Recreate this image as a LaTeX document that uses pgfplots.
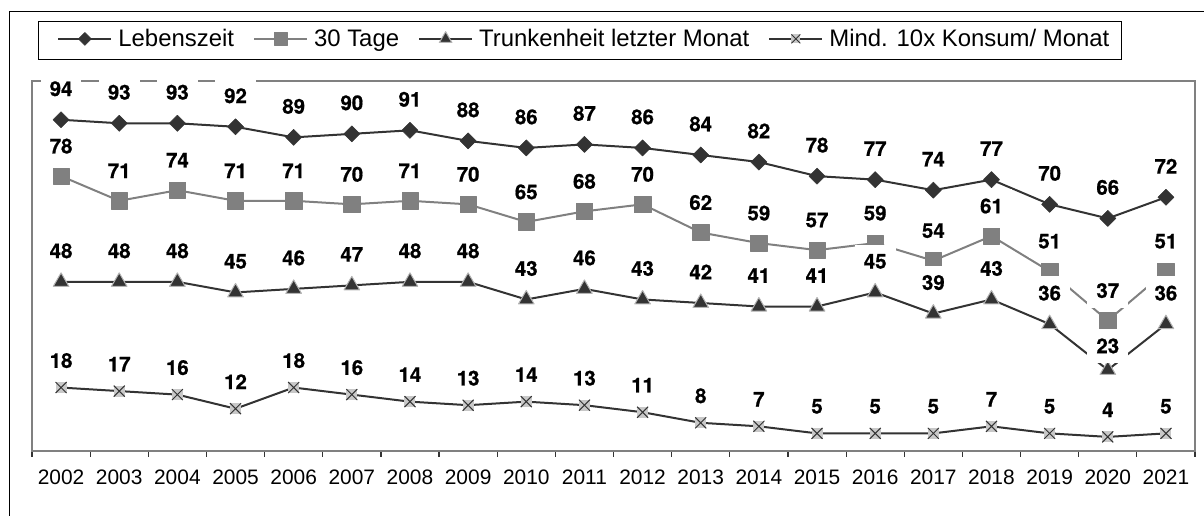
\documentclass[border=0pt]{standalone}
\usepackage{fontspec}
\setmainfont{Liberation Sans}
\newfontfamily\lblfont{texgyreheros-bold}[Extension=.otf, FakeBold=0.8]
\usepackage{pgfplots}
\pgfplotsset{compat=1.18}
\definecolor{dk}{HTML}{333333}
\definecolor{md}{HTML}{808080}
\definecolor{lt}{HTML}{B4B4B4}
\definecolor{sq}{HTML}{C8C8C8}
\pgfdeclareplotmark{xsq}{%
  \pgfpathrectangle{\pgfpoint{-\pgfplotmarksize}{-\pgfplotmarksize}}{\pgfpoint{2\pgfplotmarksize}{2\pgfplotmarksize}}%
  \pgfsetfillcolor{sq}\pgfusepath{fill}%
  \pgfpathmoveto{\pgfpoint{-\pgfplotmarksize}{-\pgfplotmarksize}}\pgfpathlineto{\pgfpoint{\pgfplotmarksize}{\pgfplotmarksize}}%
  \pgfpathmoveto{\pgfpoint{-\pgfplotmarksize}{\pgfplotmarksize}}\pgfpathlineto{\pgfpoint{\pgfplotmarksize}{-\pgfplotmarksize}}%
  \pgfsetstrokecolor{dk}\pgfsetlinewidth{1bp}\pgfusepath{stroke}}
\pgfplotstableread{
x leb tage trunk dtr kons
0 94 78 48 31 18
1 93 71 48 31 17
2 93 74 48 31 16
3 92 71 45 31 12
4 89 71 46 31 18
5 90 70 47 31 16
6 91 71 48 31 14
7 88 70 48 31 13
8 86 65 43 31 14
9 87 68 46 31 13
10 86 70 43 31 11
11 84 62 42 31 8
12 82 59 41 31 7
13 78 57 41 31 5
14 77 59 45 31 5
15 74 54 39 31 5
16 77 61 43 31 7
17 70 51 36 31 5
18 66 37 23 24 4
19 72 51 36 31 5
}\datatab
\newcommand\lbl{{\lblfont\fontsize{20.5}{20.5}\selectfont\pgfmathprintnumber{\pgfplotspointmeta}}}
\begin{document}
\begin{tikzpicture}[x=1bp,y=1bp]
\useasboundingbox (0,0) rectangle (1204,516);
\draw[black, line width=1bp] (9,-5) -- (9,504.5) -- (1210,504.5);
\begin{axis}[
  at={(32bp,65bp)}, anchor=south west,
  width=1163bp, height=370bp, scale only axis,
  xmin=-0.5, xmax=19.5, ymin=0, ymax=105,
  axis line style={md, line width=2bp},
  xtick={0,...,19},
  xticklabels={2002,2003,2004,2005,2006,2007,2008,2009,2010,2011,2012,2013,2014,2015,2016,2017,2018,2019,2020,2021},
  major tick length=0pt,
  minor xtick={-0.5,0.5,...,19.5},
  minor tick length=6bp,
  minor tick style={dk, line width=1.2bp},
  tick align=outside,
  xtick pos=bottom,
  ytick=\empty,
  /pgf/number format/assume math mode=true,
  xticklabel style={font=\fontsize{21}{21}\selectfont, anchor=center, yshift=-26bp},
  every node near coord/.append style={font={\lblfont\fontsize{20.5}{20.5}\selectfont}, fill=white, inner xsep=9bp, inner ysep=9.5bp, anchor=center, text=black},
  legend style={at={(axis description cs:0.00516,1.16216)}, anchor=north west, draw=black, line width=0.8bp,
    font=\fontsize{24}{24}\selectfont, legend columns=4, inner xsep=12bp, inner ysep=7bp,
    nodes={inner sep=0pt, anchor=base west},
    /tikz/every odd column/.append style={column sep=6bp},
    /tikz/every even column/.append style={column sep=12bp}},
  legend cell align=left,
  legend image code/.code={\path (0bp,-5bp) (0bp,17bp); \draw[mark repeat=2,mark phase=2,every mark/.append style={scale=0.8},#1] plot coordinates {(7bp,7.5bp) (33.5bp,7.5bp) (60bp,7.5bp)};},
]
\addplot[dk, line width=2bp, line join=round, mark=square*, mark size=5.7bp,
  mark options={rotate=45, fill=dk, draw=dk, line width=0.5bp},
  nodes near coords={\lbl}, every node near coord/.append style={yshift=31bp}] table[x=x,y=leb] {\datatab};
\addlegendentry{Lebenszeit}
\addplot[md, line width=2bp, line join=round, mark=square*, mark size=8.2bp,
  mark options={fill=md, draw=md, line width=0.5bp},
  nodes near coords={\lbl}, every node near coord/.append style={yshift=30bp}] table[x=x,y=tage] {\datatab};
\addlegendentry{30 Tage}
\addplot[dk, line width=2bp, line join=round, mark=triangle*, mark size=9bp,
  mark options={fill=dk, draw=lt, line width=1bp},
  visualization depends on={\thisrow{dtr} \as \dtr},
  nodes near coords={\lbl}, every node near coord/.append style={yshift=\dtr bp}] table[x=x,y=trunk] {\datatab};
\addlegendentry{Trunkenheit letzter Monat}
\addplot[dk, line width=2bp, line join=round, mark=xsq, mark size=5.5bp,
  nodes near coords={\lbl}, every node near coord/.append style={yshift=27bp}] table[x=x,y=kons] {\datatab};
\addlegendentry{Mind. 10x Konsum/ Monat}
\end{axis}
\end{tikzpicture}
\end{document}
